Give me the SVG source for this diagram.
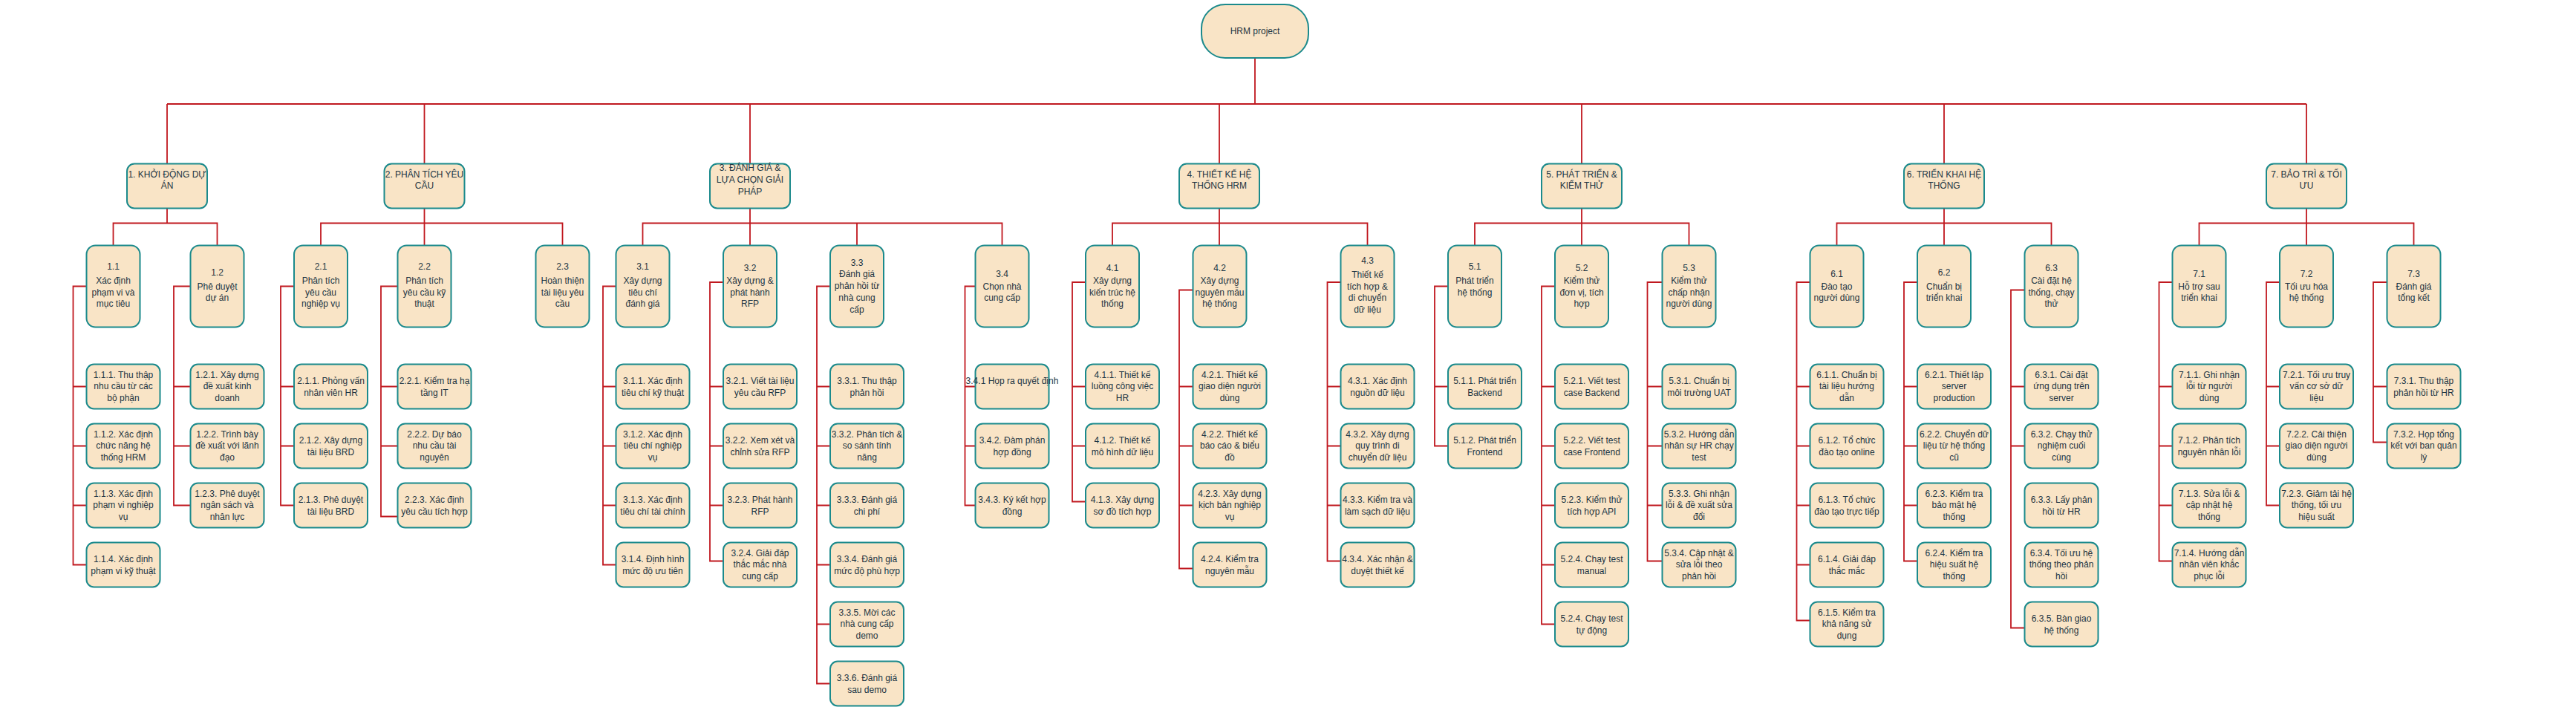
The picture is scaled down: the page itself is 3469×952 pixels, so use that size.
<svg xmlns="http://www.w3.org/2000/svg" width="3469" height="952" viewBox="0 0 3469 952">
<defs>
<style>
.b{fill:#F9E4C6;stroke:#1B8A8C;stroke-width:2}
.t{font-family:"Liberation Sans",Arial,sans-serif;font-size:12px;fill:#1C3443;text-anchor:middle}
.c{fill:none;stroke:#C0181F;stroke-width:1.8}
</style>
</defs>
<rect width="3469" height="952" fill="#FFFFFF"/>
<g id="connectors" class="c">
<path d="M1690,78V140M225,140H3106M225,140V220.5M571.5,140V220.5M1010,140V220.5M1642,140V220.5M2130,140V220.5M2618,140V220.5M3106,140V220.5"/>
<path d="M225,280.5V300.5M152.5,330.5V300.5H292.5V330.5"/>
<path d="M571.5,280.5V330.5M432,330.5V300.5H757.5V330.5"/>
<path d="M1010,280.5V330.5M865.5,330.5V300.5H1349.5V330.5M1154,300.5V330.5"/>
<path d="M1642,280.5V330.5M1498,330.5V300.5H1841.5V330.5"/>
<path d="M2130,280.5V330.5M1986,330.5V300.5H2274.5V330.5"/>
<path d="M2618,280.5V330.5M2473.5,330.5V300.5H2762.5V330.5"/>
<path d="M3106,280.5V330.5M2961.5,330.5V300.5H3250.5V330.5"/>
<path d="M116.5,385.5H98.5V760.5H116.5M98.5,520.5H116.5M98.5,600.5H116.5M98.5,680.5H116.5"/>
<path d="M256.5,385.5H234V680.5H256.5M234,520.5H256.5M234,600.5H256.5"/>
<path d="M396,385.5H378V680.5H396M378,520.5H396M378,600.5H396"/>
<path d="M535.5,385.5H513V695.5H535.5M513,520.5H535.5M513,600.5H535.5"/>
<path d="M829.5,385.5H812V760.5H829.5M812,520.5H829.5M812,600.5H829.5M812,680.5H829.5"/>
<path d="M974,380H956V755.5H974M956,520.5H974M956,600.5H974M956,680.5H974"/>
<path d="M1118,385.5H1100V920.5H1118M1100,520.5H1118M1100,600.5H1118M1100,680.5H1118M1100,760.5H1118M1100,840.5H1118"/>
<path d="M1313.5,385.5H1299.5V680.5H1313.5M1299.5,520.5H1313.5M1299.5,600.5H1313.5"/>
<path d="M1462,380H1444V675.5H1462M1444,520.5H1462M1444,600.5H1462"/>
<path d="M1606.5,390.5H1588V765.5H1606.5M1588,520.5H1606.5M1588,600.5H1606.5M1588,680.5H1606.5"/>
<path d="M1805.5,380H1787.5V755.5H1805.5M1787.5,520.5H1805.5M1787.5,600.5H1805.5M1787.5,680.5H1805.5"/>
<path d="M1950,385.5H1932V600.5H1950M1932,520.5H1950"/>
<path d="M2094,385.5H2076V840.5H2094M2076,520.5H2094M2076,600.5H2094M2076,680.5H2094M2076,760.5H2094"/>
<path d="M2238.5,380H2218.5V755.5H2238.5M2218.5,520.5H2238.5M2218.5,600.5H2238.5M2218.5,680.5H2238.5"/>
<path d="M2437.5,380H2419.5V835.5H2437.5M2419.5,520.5H2437.5M2419.5,600.5H2437.5M2419.5,680.5H2437.5M2419.5,760.5H2437.5"/>
<path d="M2582,380H2564V755.5H2582M2564,520.5H2582M2564,600.5H2582M2564,680.5H2582"/>
<path d="M2726.5,390.5H2708V845.5H2726.5M2708,520.5H2726.5M2708,600.5H2726.5"/>
<path d="M2925.5,380H2907.5V755.5H2925.5M2907.5,520.5H2925.5M2907.5,600.5H2925.5M2907.5,680.5H2925.5"/>
<path d="M3070,380H3052V680.5H3070M3052,520.5H3070M3052,600.5H3070"/>
<path d="M3214.5,380H3196V595.5H3214.5M3196,520.5H3214.5"/>
<path d="M2447,710H2465"/>
</g>
<g id="root"><rect class="b" x="1618" y="6" width="144" height="72" rx="32"/><text class="t" x="1690" y="46">HRM project</text></g>
<g id="n1"><rect class="b" x="171" y="220.5" width="108" height="60" rx="10"/><text class="t" x="225" y="238.5"><tspan x="225">1. KHỞI ĐỘNG DỰ</tspan><tspan x="225" dy="15.5">ÁN</tspan></text></g>
<g id="n2"><rect class="b" x="517.5" y="220.5" width="108" height="60" rx="10"/><text class="t" x="571.5" y="238.5"><tspan x="571.5">2. PHÂN TÍCH YÊU</tspan><tspan x="571.5" dy="15.5">CẦU</tspan></text></g>
<g id="n3"><rect class="b" x="956" y="220.5" width="108" height="60" rx="10"/><text class="t" x="1010" y="230"><tspan x="1010">3. ĐÁNH GIÁ &amp;</tspan><tspan x="1010" dy="16">LỰA CHỌN GIẢI</tspan><tspan x="1010" dy="16">PHÁP</tspan></text></g>
<g id="n4"><rect class="b" x="1588" y="220.5" width="108" height="60" rx="10"/><text class="t" x="1642" y="238.5"><tspan x="1642">4. THIẾT KẾ HỆ</tspan><tspan x="1642" dy="15.5">THỐNG HRM</tspan></text></g>
<g id="n5"><rect class="b" x="2076" y="220.5" width="108" height="60" rx="10"/><text class="t" x="2130" y="238.5"><tspan x="2130">5. PHÁT TRIỂN &amp;</tspan><tspan x="2130" dy="15.5">KIỂM THỬ</tspan></text></g>
<g id="n6"><rect class="b" x="2564" y="220.5" width="108" height="60" rx="10"/><text class="t" x="2618" y="238.5"><tspan x="2618">6. TRIỂN KHAI HỆ</tspan><tspan x="2618" dy="15.5">THỐNG</tspan></text></g>
<g id="n7"><rect class="b" x="3052" y="220.5" width="108" height="60" rx="10"/><text class="t" x="3106" y="238.5"><tspan x="3106">7. BẢO TRÌ &amp; TỐI</tspan><tspan x="3106" dy="15.5">ƯU</tspan></text></g>
<g id="n1_1"><rect class="b" x="116.5" y="330.5" width="72" height="110" rx="12"/><text class="t" y="362.5"><tspan x="152.5">1.1</tspan><tspan x="152.5" dy="19">Xác định</tspan><tspan x="152.5" dy="16">phạm vi và</tspan><tspan x="152.5" dy="15.5">mục tiêu</tspan></text></g>
<g id="n1_2"><rect class="b" x="256.5" y="330.5" width="72" height="110" rx="12"/><text class="t" y="371"><tspan x="292.5">1.2</tspan><tspan x="292.5" dy="18.5">Phê duyệt</tspan><tspan x="292.5" dy="15.5">dự án</tspan></text></g>
<g id="n2_1"><rect class="b" x="396" y="330.5" width="72" height="110" rx="12"/><text class="t" y="362.5"><tspan x="432">2.1</tspan><tspan x="432" dy="19">Phân tích</tspan><tspan x="432" dy="16">yêu cầu</tspan><tspan x="432" dy="15.5">nghiệp vụ</tspan></text></g>
<g id="n2_2"><rect class="b" x="535.5" y="330.5" width="72" height="110" rx="12"/><text class="t" y="362.5"><tspan x="571.5">2.2</tspan><tspan x="571.5" dy="19">Phân tích</tspan><tspan x="571.5" dy="16">yêu cầu kỹ</tspan><tspan x="571.5" dy="15.5">thuật</tspan></text></g>
<g id="n2_3"><rect class="b" x="721.5" y="330.5" width="72" height="110" rx="12"/><text class="t" y="362.5"><tspan x="757.5">2.3</tspan><tspan x="757.5" dy="19">Hoàn thiện</tspan><tspan x="757.5" dy="16">tài liệu yêu</tspan><tspan x="757.5" dy="15.5">cầu</tspan></text></g>
<g id="n3_1"><rect class="b" x="829.5" y="330.5" width="72" height="110" rx="12"/><text class="t" y="362.5"><tspan x="865.5">3.1</tspan><tspan x="865.5" dy="19">Xây dựng</tspan><tspan x="865.5" dy="16">tiêu chí</tspan><tspan x="865.5" dy="15.5">đánh giá</tspan></text></g>
<g id="n3_2"><rect class="b" x="974" y="330.5" width="72" height="110" rx="12"/><text class="t" y="365"><tspan x="1010">3.2</tspan><tspan x="1010" dy="16.5">Xây dựng &amp;</tspan><tspan x="1010" dy="16">phát hành</tspan><tspan x="1010" dy="15">RFP</tspan></text></g>
<g id="n3_3"><rect class="b" x="1118" y="330.5" width="72" height="110" rx="12"/><text class="t" y="357.5"><tspan x="1154">3.3</tspan><tspan x="1154" dy="15.8">Đánh giá</tspan><tspan x="1154" dy="16">phản hồi từ</tspan><tspan x="1154" dy="15.4">nhà cung</tspan><tspan x="1154" dy="16">cấp</tspan></text></g>
<g id="n3_4"><rect class="b" x="1313.5" y="330.5" width="72" height="110" rx="12"/><text class="t" y="373"><tspan x="1349.5">3.4</tspan><tspan x="1349.5" dy="16.5">Chọn nhà</tspan><tspan x="1349.5" dy="15.5">cung cấp</tspan></text></g>
<g id="n4_1"><rect class="b" x="1462" y="330.5" width="72" height="110" rx="12"/><text class="t" y="365"><tspan x="1498">4.1</tspan><tspan x="1498" dy="16.5">Xây dựng</tspan><tspan x="1498" dy="16">kiến trúc hệ</tspan><tspan x="1498" dy="15.5">thống</tspan></text></g>
<g id="n4_2"><rect class="b" x="1606.5" y="330.5" width="72" height="110" rx="12"/><text class="t" y="365"><tspan x="1642.5">4.2</tspan><tspan x="1642.5" dy="16.5">Xây dựng</tspan><tspan x="1642.5" dy="16">nguyên mẫu</tspan><tspan x="1642.5" dy="15.5">hệ thống</tspan></text></g>
<g id="n4_3"><rect class="b" x="1805.5" y="330.5" width="72" height="110" rx="12"/><text class="t" y="355"><tspan x="1841.5">4.3</tspan><tspan x="1841.5" dy="18.5">Thiết kế</tspan><tspan x="1841.5" dy="16">tích hợp &amp;</tspan><tspan x="1841.5" dy="15.4">di chuyển</tspan><tspan x="1841.5" dy="16">dữ liệu</tspan></text></g>
<g id="n5_1"><rect class="b" x="1950" y="330.5" width="72" height="110" rx="12"/><text class="t" y="362.5"><tspan x="1986">5.1</tspan><tspan x="1986" dy="19">Phát triển</tspan><tspan x="1986" dy="16">hệ thống</tspan></text></g>
<g id="n5_2"><rect class="b" x="2094" y="330.5" width="72" height="110" rx="12"/><text class="t" y="365"><tspan x="2130">5.2</tspan><tspan x="2130" dy="16.5">Kiểm thử</tspan><tspan x="2130" dy="16">đơn vị, tích</tspan><tspan x="2130" dy="15.5">hợp</tspan></text></g>
<g id="n5_3"><rect class="b" x="2238.5" y="330.5" width="72" height="110" rx="12"/><text class="t" y="365"><tspan x="2274.5">5.3</tspan><tspan x="2274.5" dy="16.5">Kiểm thử</tspan><tspan x="2274.5" dy="16">chấp nhận</tspan><tspan x="2274.5" dy="15.5">người dùng</tspan></text></g>
<g id="n6_1"><rect class="b" x="2437.5" y="330.5" width="72" height="110" rx="12"/><text class="t" y="373"><tspan x="2473.5">6.1</tspan><tspan x="2473.5" dy="16.5">Đào tạo</tspan><tspan x="2473.5" dy="15.5">người dùng</tspan></text></g>
<g id="n6_2"><rect class="b" x="2582" y="330.5" width="72" height="110" rx="12"/><text class="t" y="370.5"><tspan x="2618">6.2</tspan><tspan x="2618" dy="19">Chuẩn bị</tspan><tspan x="2618" dy="15">triển khai</tspan></text></g>
<g id="n6_3"><rect class="b" x="2726.5" y="330.5" width="72" height="110" rx="12"/><text class="t" y="365"><tspan x="2762.5">6.3</tspan><tspan x="2762.5" dy="16.5">Cài đặt hệ</tspan><tspan x="2762.5" dy="16">thống, chạy</tspan><tspan x="2762.5" dy="15">thử</tspan></text></g>
<g id="n7_1"><rect class="b" x="2925.5" y="330.5" width="72" height="110" rx="12"/><text class="t" y="373"><tspan x="2961.5">7.1</tspan><tspan x="2961.5" dy="16.5">Hỗ trợ sau</tspan><tspan x="2961.5" dy="15">triển khai</tspan></text></g>
<g id="n7_2"><rect class="b" x="3070" y="330.5" width="72" height="110" rx="12"/><text class="t" y="373"><tspan x="3106">7.2</tspan><tspan x="3106" dy="16.5">Tối ưu hóa</tspan><tspan x="3106" dy="15">hệ thống</tspan></text></g>
<g id="n7_3"><rect class="b" x="3214.5" y="330.5" width="72" height="110" rx="12"/><text class="t" y="373"><tspan x="3250.5">7.3</tspan><tspan x="3250.5" dy="16.5">Đánh giá</tspan><tspan x="3250.5" dy="15">tổng kết</tspan></text></g>
<g id="n1_1_1"><rect class="b" x="116.5" y="490.5" width="99" height="60" rx="10"/><text class="t" y="508.5"><tspan x="166">1.1.1. Thu thập</tspan><tspan x="166" dy="15.7">nhu cầu từ các</tspan><tspan x="166" dy="15.5">bộ phận</tspan></text></g>
<g id="n1_1_2"><rect class="b" x="116.5" y="570.5" width="99" height="60" rx="10"/><text class="t" y="588.5"><tspan x="166">1.1.2. Xác định</tspan><tspan x="166" dy="15.7">chức năng hệ</tspan><tspan x="166" dy="15.5">thống HRM</tspan></text></g>
<g id="n1_1_3"><rect class="b" x="116.5" y="650.5" width="99" height="60" rx="10"/><text class="t" y="668.5"><tspan x="166">1.1.3. Xác định</tspan><tspan x="166" dy="15.7">phạm vi nghiệp</tspan><tspan x="166" dy="15.5">vụ</tspan></text></g>
<g id="n1_1_4"><rect class="b" x="116.5" y="730.5" width="99" height="60" rx="10"/><text class="t" y="756.5"><tspan x="166">1.1.4. Xác định</tspan><tspan x="166" dy="16">phạm vi kỹ thuật</tspan></text></g>
<g id="n1_2_1"><rect class="b" x="256.5" y="490.5" width="99" height="60" rx="10"/><text class="t" y="508.5"><tspan x="306">1.2.1. Xây dựng</tspan><tspan x="306" dy="15.7">đề xuất kinh</tspan><tspan x="306" dy="15.5">doanh</tspan></text></g>
<g id="n1_2_2"><rect class="b" x="256.5" y="570.5" width="99" height="60" rx="10"/><text class="t" y="588.5"><tspan x="306">1.2.2. Trình bày</tspan><tspan x="306" dy="15.7">đề xuất với lãnh</tspan><tspan x="306" dy="15.5">đạo</tspan></text></g>
<g id="n1_2_3"><rect class="b" x="256.5" y="650.5" width="99" height="60" rx="10"/><text class="t" y="668.5"><tspan x="306">1.2.3. Phê duyệt</tspan><tspan x="306" dy="15.7">ngân sách và</tspan><tspan x="306" dy="15.5">nhân lực</tspan></text></g>
<g id="n2_1_1"><rect class="b" x="396" y="490.5" width="99" height="60" rx="10"/><text class="t" y="516.5"><tspan x="445.5">2.1.1. Phỏng vấn</tspan><tspan x="445.5" dy="16">nhân viên HR</tspan></text></g>
<g id="n2_1_2"><rect class="b" x="396" y="570.5" width="99" height="60" rx="10"/><text class="t" y="596.5"><tspan x="445.5">2.1.2. Xây dựng</tspan><tspan x="445.5" dy="16">tài liệu BRD</tspan></text></g>
<g id="n2_1_3"><rect class="b" x="396" y="650.5" width="99" height="60" rx="10"/><text class="t" y="676.5"><tspan x="445.5">2.1.3. Phê duyệt</tspan><tspan x="445.5" dy="16">tài liệu BRD</tspan></text></g>
<g id="n2_2_1"><rect class="b" x="535.5" y="490.5" width="99" height="60" rx="10"/><text class="t" y="516.5"><tspan x="585">2.2.1. Kiểm tra hạ</tspan><tspan x="585" dy="16">tầng IT</tspan></text></g>
<g id="n2_2_2"><rect class="b" x="535.5" y="570.5" width="99" height="60" rx="10"/><text class="t" y="588.5"><tspan x="585">2.2.2. Dự báo</tspan><tspan x="585" dy="15.7">nhu cầu tài</tspan><tspan x="585" dy="15.5">nguyên</tspan></text></g>
<g id="n2_2_3"><rect class="b" x="535.5" y="650.5" width="99" height="60" rx="10"/><text class="t" y="676.5"><tspan x="585">2.2.3. Xác định</tspan><tspan x="585" dy="16">yêu cầu tích hợp</tspan></text></g>
<g id="n3_1_1"><rect class="b" x="829.5" y="490.5" width="99" height="60" rx="10"/><text class="t" y="516.5"><tspan x="879">3.1.1. Xác định</tspan><tspan x="879" dy="16">tiêu chí kỹ thuật</tspan></text></g>
<g id="n3_1_2"><rect class="b" x="829.5" y="570.5" width="99" height="60" rx="10"/><text class="t" y="588.5"><tspan x="879">3.1.2. Xác định</tspan><tspan x="879" dy="15.7">tiêu chí nghiệp</tspan><tspan x="879" dy="15.5">vụ</tspan></text></g>
<g id="n3_1_3"><rect class="b" x="829.5" y="650.5" width="99" height="60" rx="10"/><text class="t" y="676.5"><tspan x="879">3.1.3. Xác định</tspan><tspan x="879" dy="16">tiêu chí tài chính</tspan></text></g>
<g id="n3_1_4"><rect class="b" x="829.5" y="730.5" width="99" height="60" rx="10"/><text class="t" y="756.5"><tspan x="879">3.1.4. Định hình</tspan><tspan x="879" dy="16">mức độ ưu tiên</tspan></text></g>
<g id="n3_2_1"><rect class="b" x="974" y="490.5" width="99" height="60" rx="10"/><text class="t" y="516.5"><tspan x="1023.5">3.2.1. Viết tài liệu</tspan><tspan x="1023.5" dy="16">yêu cầu RFP</tspan></text></g>
<g id="n3_2_2"><rect class="b" x="974" y="570.5" width="99" height="60" rx="10"/><text class="t" y="596.5"><tspan x="1023.5">3.2.2. Xem xét và</tspan><tspan x="1023.5" dy="16">chỉnh sửa RFP</tspan></text></g>
<g id="n3_2_3"><rect class="b" x="974" y="650.5" width="99" height="60" rx="10"/><text class="t" y="676.5"><tspan x="1023.5">3.2.3. Phát hành</tspan><tspan x="1023.5" dy="16">RFP</tspan></text></g>
<g id="n3_2_4"><rect class="b" x="974" y="730.5" width="99" height="60" rx="10"/><text class="t" y="748.5"><tspan x="1023.5">3.2.4. Giải đáp</tspan><tspan x="1023.5" dy="15.7">thắc mắc nhà</tspan><tspan x="1023.5" dy="15.5">cung cấp</tspan></text></g>
<g id="n3_3_1"><rect class="b" x="1118" y="490.5" width="99" height="60" rx="10"/><text class="t" y="516.5"><tspan x="1167.5">3.3.1. Thu thập</tspan><tspan x="1167.5" dy="16">phản hồi</tspan></text></g>
<g id="n3_3_2"><rect class="b" x="1118" y="570.5" width="99" height="60" rx="10"/><text class="t" y="588.5"><tspan x="1167.5">3.3.2. Phân tích &amp;</tspan><tspan x="1167.5" dy="15.7">so sánh tính</tspan><tspan x="1167.5" dy="15.5">năng</tspan></text></g>
<g id="n3_3_3"><rect class="b" x="1118" y="650.5" width="99" height="60" rx="10"/><text class="t" y="676.5"><tspan x="1167.5">3.3.3. Đánh giá</tspan><tspan x="1167.5" dy="16">chi phí</tspan></text></g>
<g id="n3_3_4"><rect class="b" x="1118" y="730.5" width="99" height="60" rx="10"/><text class="t" y="756.5"><tspan x="1167.5">3.3.4. Đánh giá</tspan><tspan x="1167.5" dy="16">mức độ phù hợp</tspan></text></g>
<g id="n3_3_5"><rect class="b" x="1118" y="810.5" width="99" height="60" rx="10"/><text class="t" y="828.5"><tspan x="1167.5">3.3.5. Mời các</tspan><tspan x="1167.5" dy="15.7">nhà cung cấp</tspan><tspan x="1167.5" dy="15.5">demo</tspan></text></g>
<g id="n3_3_6"><rect class="b" x="1118" y="890.5" width="99" height="60" rx="10"/><text class="t" y="916.5"><tspan x="1167.5">3.3.6. Đánh giá</tspan><tspan x="1167.5" dy="16">sau demo</tspan></text></g>
<g id="n3_4_1"><rect class="b" x="1313.5" y="490.5" width="99" height="60" rx="10"/><text class="t" x="1363" y="516.5">3.4.1 Họp ra quyết định</text></g>
<g id="n3_4_2"><rect class="b" x="1313.5" y="570.5" width="99" height="60" rx="10"/><text class="t" y="596.5"><tspan x="1363">3.4.2. Đàm phán</tspan><tspan x="1363" dy="16">hợp đồng</tspan></text></g>
<g id="n3_4_3"><rect class="b" x="1313.5" y="650.5" width="99" height="60" rx="10"/><text class="t" y="676.5"><tspan x="1363">3.4.3. Ký kết hợp</tspan><tspan x="1363" dy="16">đồng</tspan></text></g>
<g id="n4_1_1"><rect class="b" x="1462" y="490.5" width="99" height="60" rx="10"/><text class="t" y="508.5"><tspan x="1511.5">4.1.1. Thiết kế</tspan><tspan x="1511.5" dy="15.7">luồng công việc</tspan><tspan x="1511.5" dy="15.5">HR</tspan></text></g>
<g id="n4_1_2"><rect class="b" x="1462" y="570.5" width="99" height="60" rx="10"/><text class="t" y="596.5"><tspan x="1511.5">4.1.2. Thiết kế</tspan><tspan x="1511.5" dy="16">mô hình dữ liệu</tspan></text></g>
<g id="n4_1_3"><rect class="b" x="1462" y="650.5" width="99" height="60" rx="10"/><text class="t" y="676.5"><tspan x="1511.5">4.1.3. Xây dựng</tspan><tspan x="1511.5" dy="16">sơ đồ tích hợp</tspan></text></g>
<g id="n4_2_1"><rect class="b" x="1606.5" y="490.5" width="99" height="60" rx="10"/><text class="t" y="508.5"><tspan x="1656">4.2.1. Thiết kế</tspan><tspan x="1656" dy="15.7">giao diện người</tspan><tspan x="1656" dy="15.5">dùng</tspan></text></g>
<g id="n4_2_2"><rect class="b" x="1606.5" y="570.5" width="99" height="60" rx="10"/><text class="t" y="588.5"><tspan x="1656">4.2.2. Thiết kế</tspan><tspan x="1656" dy="15.7">báo cáo &amp; biểu</tspan><tspan x="1656" dy="15.5">đồ</tspan></text></g>
<g id="n4_2_3"><rect class="b" x="1606.5" y="650.5" width="99" height="60" rx="10"/><text class="t" y="668.5"><tspan x="1656">4.2.3. Xây dựng</tspan><tspan x="1656" dy="15.7">kịch bản nghiệp</tspan><tspan x="1656" dy="15.5">vụ</tspan></text></g>
<g id="n4_2_4"><rect class="b" x="1606.5" y="730.5" width="99" height="60" rx="10"/><text class="t" y="756.5"><tspan x="1656">4.2.4. Kiểm tra</tspan><tspan x="1656" dy="16">nguyên mẫu</tspan></text></g>
<g id="n4_3_1"><rect class="b" x="1805.5" y="490.5" width="99" height="60" rx="10"/><text class="t" y="516.5"><tspan x="1855">4.3.1. Xác định</tspan><tspan x="1855" dy="16">nguồn dữ liệu</tspan></text></g>
<g id="n4_3_2"><rect class="b" x="1805.5" y="570.5" width="99" height="60" rx="10"/><text class="t" y="588.5"><tspan x="1855">4.3.2. Xây dựng</tspan><tspan x="1855" dy="15.7">quy trình di</tspan><tspan x="1855" dy="15.5">chuyển dữ liệu</tspan></text></g>
<g id="n4_3_3"><rect class="b" x="1805.5" y="650.5" width="99" height="60" rx="10"/><text class="t" y="676.5"><tspan x="1855">4.3.3. Kiểm tra và</tspan><tspan x="1855" dy="16">làm sạch dữ liệu</tspan></text></g>
<g id="n4_3_4"><rect class="b" x="1805.5" y="730.5" width="99" height="60" rx="10"/><text class="t" y="756.5"><tspan x="1855">4.3.4. Xác nhận &amp;</tspan><tspan x="1855" dy="16">duyệt thiết kế</tspan></text></g>
<g id="n5_1_1"><rect class="b" x="1950" y="490.5" width="99" height="60" rx="10"/><text class="t" y="516.5"><tspan x="1999.5">5.1.1. Phát triển</tspan><tspan x="1999.5" dy="16">Backend</tspan></text></g>
<g id="n5_1_2"><rect class="b" x="1950" y="570.5" width="99" height="60" rx="10"/><text class="t" y="596.5"><tspan x="1999.5">5.1.2. Phát triển</tspan><tspan x="1999.5" dy="16">Frontend</tspan></text></g>
<g id="n5_2_1"><rect class="b" x="2094" y="490.5" width="99" height="60" rx="10"/><text class="t" y="516.5"><tspan x="2143.5">5.2.1. Viết test</tspan><tspan x="2143.5" dy="16">case Backend</tspan></text></g>
<g id="n5_2_2"><rect class="b" x="2094" y="570.5" width="99" height="60" rx="10"/><text class="t" y="596.5"><tspan x="2143.5">5.2.2. Viết test</tspan><tspan x="2143.5" dy="16">case Frontend</tspan></text></g>
<g id="n5_2_3"><rect class="b" x="2094" y="650.5" width="99" height="60" rx="10"/><text class="t" y="676.5"><tspan x="2143.5">5.2.3. Kiểm thử</tspan><tspan x="2143.5" dy="16">tích hợp API</tspan></text></g>
<g id="n5_2_4"><rect class="b" x="2094" y="730.5" width="99" height="60" rx="10"/><text class="t" y="756.5"><tspan x="2143.5">5.2.4. Chạy test</tspan><tspan x="2143.5" dy="16">manual</tspan></text></g>
<g id="n5_2_5"><rect class="b" x="2094" y="810.5" width="99" height="60" rx="10"/><text class="t" y="836.5"><tspan x="2143.5">5.2.4. Chạy test</tspan><tspan x="2143.5" dy="16">tự động</tspan></text></g>
<g id="n5_3_1"><rect class="b" x="2238.5" y="490.5" width="99" height="60" rx="10"/><text class="t" y="516.5"><tspan x="2288">5.3.1. Chuẩn bị</tspan><tspan x="2288" dy="16">môi trường UAT</tspan></text></g>
<g id="n5_3_2"><rect class="b" x="2238.5" y="570.5" width="99" height="60" rx="10"/><text class="t" y="588.5"><tspan x="2288">5.3.2. Hướng dẫn</tspan><tspan x="2288" dy="15.7">nhân sự HR chạy</tspan><tspan x="2288" dy="15.5">test</tspan></text></g>
<g id="n5_3_3"><rect class="b" x="2238.5" y="650.5" width="99" height="60" rx="10"/><text class="t" y="668.5"><tspan x="2288">5.3.3. Ghi nhận</tspan><tspan x="2288" dy="15.7">lỗi &amp; đề xuất sửa</tspan><tspan x="2288" dy="15.5">đổi</tspan></text></g>
<g id="n5_3_4"><rect class="b" x="2238.5" y="730.5" width="99" height="60" rx="10"/><text class="t" y="748.5"><tspan x="2288">5.3.4. Cập nhật &amp;</tspan><tspan x="2288" dy="15.7">sửa lỗi theo</tspan><tspan x="2288" dy="15.5">phản hồi</tspan></text></g>
<g id="n6_1_1"><rect class="b" x="2437.5" y="490.5" width="99" height="60" rx="10"/><text class="t" y="508.5"><tspan x="2487">6.1.1. Chuẩn bị</tspan><tspan x="2487" dy="15.7">tài liệu hướng</tspan><tspan x="2487" dy="15.5">dẫn</tspan></text></g>
<g id="n6_1_2"><rect class="b" x="2437.5" y="570.5" width="99" height="60" rx="10"/><text class="t" y="596.5"><tspan x="2487">6.1.2. Tổ chức</tspan><tspan x="2487" dy="16">đào tạo online</tspan></text></g>
<g id="n6_1_3"><rect class="b" x="2437.5" y="650.5" width="99" height="60" rx="10"/><text class="t" y="676.5"><tspan x="2487">6.1.3. Tổ chức</tspan><tspan x="2487" dy="16">đào tạo trực tiếp</tspan></text></g>
<g id="n6_1_4"><rect class="b" x="2437.5" y="730.5" width="99" height="60" rx="10"/><text class="t" y="756.5"><tspan x="2487">6.1.4. Giải đáp</tspan><tspan x="2487" dy="16">thắc mắc</tspan></text></g>
<g id="n6_1_5"><rect class="b" x="2437.5" y="810.5" width="99" height="60" rx="10"/><text class="t" y="828.5"><tspan x="2487">6.1.5. Kiểm tra</tspan><tspan x="2487" dy="15.7">khả năng sử</tspan><tspan x="2487" dy="15.5">dụng</tspan></text></g>
<g id="n6_2_1"><rect class="b" x="2582" y="490.5" width="99" height="60" rx="10"/><text class="t" y="508.5"><tspan x="2631.5">6.2.1. Thiết lập</tspan><tspan x="2631.5" dy="15.7">server</tspan><tspan x="2631.5" dy="15.5">production</tspan></text></g>
<g id="n6_2_2"><rect class="b" x="2582" y="570.5" width="99" height="60" rx="10"/><text class="t" y="588.5"><tspan x="2631.5">6.2.2. Chuyển dữ</tspan><tspan x="2631.5" dy="15.7">liệu từ hệ thống</tspan><tspan x="2631.5" dy="15.5">cũ</tspan></text></g>
<g id="n6_2_3"><rect class="b" x="2582" y="650.5" width="99" height="60" rx="10"/><text class="t" y="668.5"><tspan x="2631.5">6.2.3. Kiểm tra</tspan><tspan x="2631.5" dy="15.7">bảo mật hệ</tspan><tspan x="2631.5" dy="15.5">thống</tspan></text></g>
<g id="n6_2_4"><rect class="b" x="2582" y="730.5" width="99" height="60" rx="10"/><text class="t" y="748.5"><tspan x="2631.5">6.2.4. Kiểm tra</tspan><tspan x="2631.5" dy="15.7">hiệu suất hệ</tspan><tspan x="2631.5" dy="15.5">thống</tspan></text></g>
<g id="n6_3_1"><rect class="b" x="2726.5" y="490.5" width="99" height="60" rx="10"/><text class="t" y="508.5"><tspan x="2776">6.3.1. Cài đặt</tspan><tspan x="2776" dy="15.7">ứng dụng trên</tspan><tspan x="2776" dy="15.5">server</tspan></text></g>
<g id="n6_3_2"><rect class="b" x="2726.5" y="570.5" width="99" height="60" rx="10"/><text class="t" y="588.5"><tspan x="2776">6.3.2. Chạy thử</tspan><tspan x="2776" dy="15.7">nghiệm cuối</tspan><tspan x="2776" dy="15.5">cùng</tspan></text></g>
<g id="n6_3_3"><rect class="b" x="2726.5" y="650.5" width="99" height="60" rx="10"/><text class="t" y="676.5"><tspan x="2776">6.3.3. Lấy phản</tspan><tspan x="2776" dy="16">hồi từ HR</tspan></text></g>
<g id="n6_3_4"><rect class="b" x="2726.5" y="730.5" width="99" height="60" rx="10"/><text class="t" y="748.5"><tspan x="2776">6.3.4. Tối ưu hệ</tspan><tspan x="2776" dy="15.7">thống theo phản</tspan><tspan x="2776" dy="15.5">hồi</tspan></text></g>
<g id="n6_3_5"><rect class="b" x="2726.5" y="810.5" width="99" height="60" rx="10"/><text class="t" y="836.5"><tspan x="2776">6.3.5. Bàn giao</tspan><tspan x="2776" dy="16">hệ thống</tspan></text></g>
<g id="n7_1_1"><rect class="b" x="2925.5" y="490.5" width="99" height="60" rx="10"/><text class="t" y="508.5"><tspan x="2975">7.1.1. Ghi nhận</tspan><tspan x="2975" dy="15.7">lỗi từ người</tspan><tspan x="2975" dy="15.5">dùng</tspan></text></g>
<g id="n7_1_2"><rect class="b" x="2925.5" y="570.5" width="99" height="60" rx="10"/><text class="t" y="596.5"><tspan x="2975">7.1.2. Phân tích</tspan><tspan x="2975" dy="16">nguyên nhân lỗi</tspan></text></g>
<g id="n7_1_3"><rect class="b" x="2925.5" y="650.5" width="99" height="60" rx="10"/><text class="t" y="668.5"><tspan x="2975">7.1.3. Sửa lỗi &amp;</tspan><tspan x="2975" dy="15.7">cập nhật hệ</tspan><tspan x="2975" dy="15.5">thống</tspan></text></g>
<g id="n7_1_4"><rect class="b" x="2925.5" y="730.5" width="99" height="60" rx="10"/><text class="t" y="748.5"><tspan x="2975">7.1.4. Hướng dẫn</tspan><tspan x="2975" dy="15.7">nhân viên khắc</tspan><tspan x="2975" dy="15.5">phục lỗi</tspan></text></g>
<g id="n7_2_1"><rect class="b" x="3070" y="490.5" width="99" height="60" rx="10"/><text class="t" y="508.5"><tspan x="3119.5">7.2.1. Tối ưu truy</tspan><tspan x="3119.5" dy="15.7">vấn cơ sở dữ</tspan><tspan x="3119.5" dy="15.5">liệu</tspan></text></g>
<g id="n7_2_2"><rect class="b" x="3070" y="570.5" width="99" height="60" rx="10"/><text class="t" y="588.5"><tspan x="3119.5">7.2.2. Cải thiện</tspan><tspan x="3119.5" dy="15.7">giao diện người</tspan><tspan x="3119.5" dy="15.5">dùng</tspan></text></g>
<g id="n7_2_3"><rect class="b" x="3070" y="650.5" width="99" height="60" rx="10"/><text class="t" y="668.5"><tspan x="3119.5">7.2.3. Giảm tải hệ</tspan><tspan x="3119.5" dy="15.7">thống, tối ưu</tspan><tspan x="3119.5" dy="15.5">hiệu suất</tspan></text></g>
<g id="n7_3_1"><rect class="b" x="3214.5" y="490.5" width="99" height="60" rx="10"/><text class="t" y="516.5"><tspan x="3264">7.3.1. Thu thập</tspan><tspan x="3264" dy="16">phản hồi từ HR</tspan></text></g>
<g id="n7_3_2"><rect class="b" x="3214.5" y="570.5" width="99" height="60" rx="10"/><text class="t" y="588.5"><tspan x="3264">7.3.2. Họp tổng</tspan><tspan x="3264" dy="15.7">kết với ban quản</tspan><tspan x="3264" dy="15.5">lý</tspan></text></g>
</svg>
